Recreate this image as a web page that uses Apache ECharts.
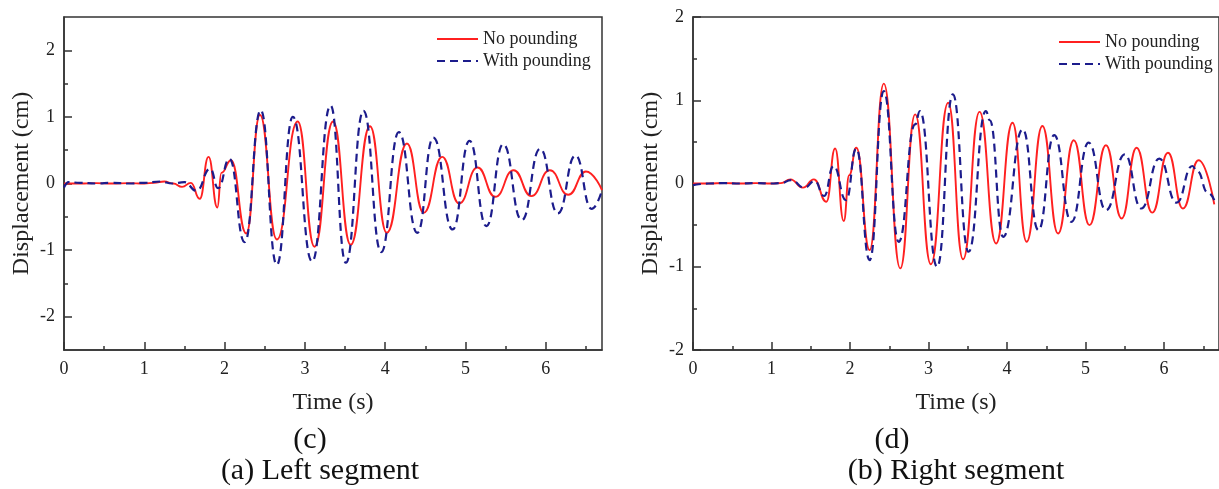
<!DOCTYPE html>
<html style="height: 100%">
<head>
<meta charset="utf-8">
</head>
<body style="height: 100%; margin: 0; background: #fff">
<div id="container" style="width: 1219px; height: 489px"></div>
<script src="https://cdn.jsdelivr.net/npm/echarts@6/dist/echarts.min.js"></script>
<script>
// (c) left segment, [time s, displacement cm] read at peaks / troughs
var leftNoPounding = [
  [0, 0], [0.2, 0], [0.4, 0.005], [0.6, 0], [0.8, 0.005], [1.0, 0], [1.12, 0.01],
  [1.25, 0.03], [1.36, 0.0], [1.47, -0.05], [1.58, 0.01], [1.69, -0.23],
  [1.80, 0.40], [1.91, -0.36], [1.96, 0.16], [2.08, 0.35], [2.27, -0.75],
  [2.44, 1.03], [2.65, -0.84], [2.91, 0.93], [3.12, -0.95], [3.35, 0.93],
  [3.57, -0.92], [3.81, 0.86], [4.02, -0.74], [4.27, 0.60], [4.48, -0.44],
  [4.71, 0.40], [4.92, -0.30], [5.15, 0.24], [5.37, -0.20], [5.60, 0.20],
  [5.82, -0.19], [6.05, 0.20], [6.28, -0.17], [6.50, 0.18], [6.70, -0.10]
];
var leftWithPounding = [
  [0, -0.06], [0.06, 0.02], [0.2, 0.01], [0.4, 0.0], [0.6, 0.01], [0.8, 0.0],
  [1.0, 0.01], [1.2, 0.03], [1.35, 0.0], [1.5, 0.02], [1.65, -0.11],
  [1.82, 0.22], [1.92, -0.07], [2.06, 0.37], [2.25, -0.88], [2.45, 1.10],
  [2.65, -1.22], [2.85, 1.00], [3.09, -1.17], [3.32, 1.17], [3.51, -1.19],
  [3.73, 1.09], [3.95, -1.03], [4.17, 0.77], [4.40, -0.74], [4.60, 0.69],
  [4.84, -0.69], [5.05, 0.64], [5.26, -0.64], [5.47, 0.59], [5.70, -0.55],
  [5.93, 0.52], [6.15, -0.45], [6.37, 0.42], [6.57, -0.38], [6.70, -0.10]
];
// (d) right segment
var rightNoPounding = [
  [0, 0], [0.2, 0], [0.4, 0.005], [0.6, 0], [0.8, 0.005], [1.0, 0], [1.12, 0.005],
  [1.24, 0.05], [1.40, -0.05], [1.54, 0.05], [1.70, -0.22], [1.81, 0.42],
  [1.92, -0.45], [1.99, 0.10], [2.08, 0.43], [2.25, -0.80], [2.43, 1.20],
  [2.64, -1.02], [2.83, 0.83], [3.03, -0.97], [3.25, 0.97], [3.44, -0.91],
  [3.65, 0.86], [3.86, -0.72], [4.07, 0.73], [4.25, -0.70], [4.45, 0.69],
  [4.65, -0.60], [4.85, 0.52], [5.05, -0.50], [5.26, 0.46], [5.46, -0.42],
  [5.65, 0.43], [5.85, -0.35], [6.05, 0.37], [6.24, -0.30], [6.44, 0.28],
  [6.64, -0.25]
];
var rightWithPounding = [
  [0, -0.02], [0.2, 0], [0.4, 0.005], [0.6, 0], [0.8, 0.005], [1.0, 0], [1.12, 0.005],
  [1.25, 0.04], [1.42, -0.05], [1.55, 0.03], [1.67, -0.15], [1.79, 0.21],
  [1.95, -0.20], [2.08, 0.42], [2.25, -0.92], [2.43, 1.11], [2.62, -0.70],
  [2.83, 0.71], [2.89, 0.87], [3.11, -1.00], [3.31, 1.07], [3.51, -0.82],
  [3.73, 0.87], [3.78, 0.76], [3.95, -0.64], [4.20, 0.65], [4.40, -0.56],
  [4.60, 0.58], [4.82, -0.46], [5.04, 0.49], [5.26, -0.32], [5.50, 0.35],
  [5.71, -0.30], [5.94, 0.30], [6.16, -0.23], [6.36, 0.21], [6.42, 0.15],
  [6.56, -0.11], [6.64, -0.20]
];

var xMajor = [0, 1, 2, 3, 4, 5, 6];
var xMinor = [0.5, 1.5, 2.5, 3.5, 4.5, 5.5, 6.5];
var yMajor = [-2, -1, 0, 1, 2];
var yMinor = [-1.5, -0.5, 0.5, 1.5];
var seriesNames = ['No pounding', 'With pounding'];
var captions = [['(c)', '(a) Left segment'], ['(d)', '(b) Right segment']];

var FONT = "'Liberation Serif', 'Times New Roman', serif";
var AXIS_COLOR = '#333';
var RED = '#ff2020';
var NAVY = '#1c1c8c';

var dom = document.getElementById('container');
var myChart = echarts.init(dom);

function majorX(grid) {
  return {
    type: 'value', gridIndex: grid, min: 0, max: 6.7, position: 'bottom',
    axisLine: { onZero: false, lineStyle: { color: AXIS_COLOR, width: 1.5 } },
    name: 'Time (s)', nameLocation: 'middle', nameGap: 41,
    nameTextStyle: { fontFamily: FONT, fontSize: 24, color: '#222' },
    axisTick: { inside: true, length: 8, customValues: xMajor, lineStyle: { color: AXIS_COLOR, width: 1.5 } },
    axisLabel: { customValues: xMajor, margin: 10, fontFamily: FONT, fontSize: 18, color: '#222' },
    splitLine: { show: false }
  };
}
function minorX(grid) {
  return {
    type: 'value', gridIndex: grid, min: 0, max: 6.7, position: 'bottom',
    axisLine: { show: false, onZero: false },
    axisTick: { inside: true, length: 4, customValues: xMinor, lineStyle: { color: AXIS_COLOR, width: 1.5 } },
    axisLabel: { show: false, customValues: xMinor },
    splitLine: { show: false }
  };
}
function majorY(grid, lim) {
  return {
    type: 'value', gridIndex: grid, min: -lim, max: lim, position: 'left',
    name: 'Displacement (cm)', nameLocation: 'middle', nameGap: 30,
    nameTextStyle: { fontFamily: FONT, fontSize: 24, color: '#222' },
    axisLine: { onZero: false, lineStyle: { color: AXIS_COLOR, width: 1.5 } },
    axisTick: { inside: true, length: 8, customValues: yMajor, lineStyle: { color: AXIS_COLOR, width: 1.5 } },
    axisLabel: { customValues: yMajor, margin: 9, fontFamily: FONT, fontSize: 18, color: '#222' },
    splitLine: { show: false }
  };
}
function minorY(grid, lim) {
  return {
    type: 'value', gridIndex: grid, min: -lim, max: lim, position: 'left',
    axisLine: { show: false, onZero: false },
    axisTick: { inside: true, length: 4, customValues: yMinor, lineStyle: { color: AXIS_COLOR, width: 1.5 } },
    axisLabel: { show: false, customValues: yMinor },
    splitLine: { show: false }
  };
}
function line(name, data, axis, dashed) {
  return {
    type: 'line', name: name, data: data,
    xAxisIndex: axis, yAxisIndex: axis,
    showSymbol: false, symbol: 'none',
    smooth: 0.5, smoothMonotone: 'x',
    lineStyle: dashed ? { color: NAVY, width: 2.2, type: [8, 5] } : { color: RED, width: 1.9 },
    itemStyle: { color: dashed ? NAVY : RED }
  };
}
function legend(left, top) {
  return {
    orient: 'vertical', left: left, top: top,
    itemWidth: 41, itemHeight: 14, itemGap: 4,
    data: seriesNames, selectedMode: false,
    itemStyle: { opacity: 0 },
    textStyle: { fontFamily: FONT, fontSize: 18, color: '#222' }
  };
}
function caption(x, y, text) {
  return {
    type: 'text', x: x, y: y,
    style: { text: text, font: '30px ' + FONT, fill: '#111', textAlign: 'center', textVerticalAlign: 'middle' }
  };
}

var option = {
  animation: false,
  backgroundColor: '#fff',
  grid: [
    { left: 64, top: 17, right: 617, bottom: 139, show: true, borderColor: AXIS_COLOR, borderWidth: 1.5 },
    { left: 693, top: 17, right: -11, bottom: 139, show: true, borderColor: AXIS_COLOR, borderWidth: 1.5 }
  ],
  xAxis: [majorX(0), minorX(0), majorX(1), minorX(1)],
  yAxis: [majorY(0, 2.5), minorY(0, 2.5), majorY(1, 2), minorY(1, 2)],
  legend: [legend(431, 25), legend(1053, 28)],
  series: [
    line(seriesNames[0], leftNoPounding, 0, false),
    line(seriesNames[1], leftWithPounding, 0, true),
    line(seriesNames[0], rightNoPounding, 2, false),
    line(seriesNames[1], rightWithPounding, 2, true)
  ],
  graphic: [
    caption(310, 440, captions[0][0]),
    caption(320, 471, captions[0][1]),
    caption(892, 440, captions[1][0]),
    caption(956, 471, captions[1][1])
  ]
};

myChart.setOption(option);
</script>
</body>
</html>
